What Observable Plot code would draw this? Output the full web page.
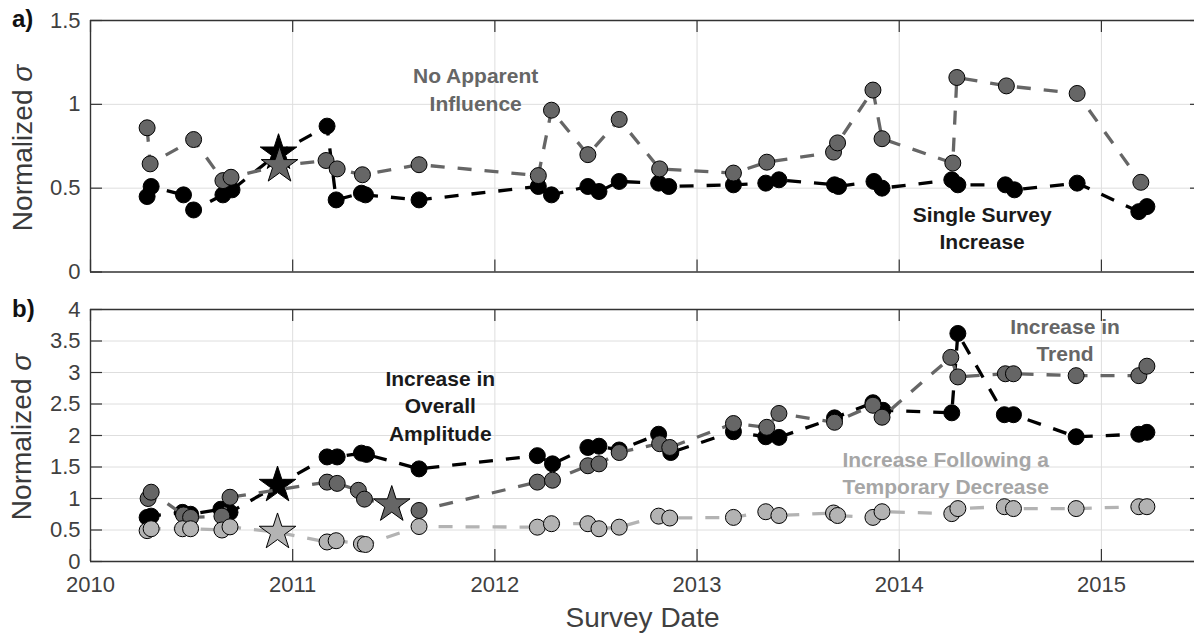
<!DOCTYPE html>
<html>
<head>
<meta charset="utf-8">
<script src="https://cdn.jsdelivr.net/npm/d3@7"></script>
<script src="https://cdn.jsdelivr.net/npm/@observablehq/plot@0.6"></script>
<style>
  html, body { margin: 0; padding: 0; background: #fff; overflow: hidden; }
  #fig { position: relative; width: 1194px; height: 636px; font-family: "Liberation Sans", Arial, sans-serif; }
  .panel { position: absolute; left: 0; }
  .tag { position: absolute; font-weight: bold; font-size: 24px; line-height: 24px; color: #111; }
  .ylab { position: absolute; font-size: 28px; line-height: 30px; color: #3a3a3a; white-space: nowrap;
          transform: translate(-50%, -50%) rotate(-90deg); }
</style>
</head>
<body>
<div id="fig">
  <div class="panel" id="panelA" style="top:0"></div>
  <div class="panel" id="panelB" style="top:290px"></div>
  <div class="tag" style="left:12px; top:7px">a)</div>
  <div class="tag" style="left:12px; top:297px">b)</div>
  <div class="ylab" style="left:23px; top:148px">Normalized <i>σ</i></div>
  <div class="ylab" style="left:22px; top:437px">Normalized <i>σ</i></div>
</div>
<script>
// ---- axis ticks ----
const yearTicks = [2010, 2011, 2012, 2013, 2014, 2015];
const yTicksA = [0, 0.5, 1, 1.5];
const yTickLabelsA = ["0", "0.5", "1", "1.5"];
const yTicksB = [0, 0.5, 1, 1.5, 2, 2.5, 3, 3.5, 4];
const yTickLabelsB = ["0", "0.5", "1", "1.5", "2", "2.5", "3", "3.5", "4"];

// ---- panel a: single survey increase (black) ----
const aSingleDates = [2010.28, 2010.30, 2010.46, 2010.51, 2010.655, 2010.70, 2011.17, 2011.215, 2011.34, 2011.36,
  2011.625, 2012.215, 2012.28, 2012.46, 2012.515, 2012.615, 2012.81, 2012.86, 2013.18, 2013.34, 2013.405,
  2013.68, 2013.70, 2013.875, 2013.915, 2014.26, 2014.29, 2014.525, 2014.57, 2014.88, 2015.185, 2015.225];
const aSingleValues = [0.45, 0.51, 0.46, 0.37, 0.46, 0.49, 0.87, 0.43, 0.47, 0.46,
  0.43, 0.51, 0.46, 0.51, 0.48, 0.54, 0.53, 0.51, 0.52, 0.53, 0.55,
  0.52, 0.51, 0.54, 0.50, 0.55, 0.52, 0.52, 0.49, 0.53, 0.36, 0.39];
const aSingleStarDates = [2010.93];
const aSingleStarValues = [0.71];

// ---- panel a: no apparent influence (dark gray) ----
const aNoneDates = [2010.28, 2010.295, 2010.51, 2010.655, 2010.695, 2011.165, 2011.22, 2011.345, 2011.625,
  2012.215, 2012.28, 2012.46, 2012.615, 2012.815, 2013.18, 2013.345, 2013.675, 2013.695, 2013.87, 2013.915,
  2014.265, 2014.285, 2014.53, 2014.88, 2015.195];
const aNoneValues = [0.86, 0.645, 0.79, 0.545, 0.565, 0.665, 0.615, 0.58, 0.64,
  0.575, 0.965, 0.70, 0.91, 0.615, 0.59, 0.655, 0.715, 0.77, 1.085, 0.795,
  0.65, 1.16, 1.11, 1.065, 0.535];
const aNoneStarDates = [2010.935];
const aNoneStarValues = [0.635];

// ---- panel b: increase in overall amplitude (black) ----
const bAmpDates = [2010.28, 2010.30, 2010.455, 2010.495, 2010.645, 2010.69, 2011.17, 2011.22, 2011.34, 2011.365,
  2011.625, 2012.21, 2012.285, 2012.46, 2012.515, 2012.615, 2012.81, 2012.87, 2013.18, 2013.34, 2013.405,
  2013.68, 2013.87, 2013.92, 2014.26, 2014.29, 2014.52, 2014.565, 2014.875, 2015.185, 2015.225];
const bAmpValues = [0.70, 0.72, 0.78, 0.75, 0.83, 0.78, 1.66, 1.66, 1.72, 1.70,
  1.47, 1.68, 1.55, 1.81, 1.83, 1.77, 2.02, 1.73, 2.06, 1.98, 1.97,
  2.28, 2.52, 2.40, 2.36, 3.62, 2.33, 2.33, 1.98, 2.02, 2.05];
const bAmpStarDates = [2010.925];
const bAmpStarValues = [1.21];

// ---- panel b: increase in trend (dark gray) ----
const bTrendDates = [2010.285, 2010.30, 2010.46, 2010.495, 2010.65, 2010.69, 2011.17, 2011.22, 2011.325, 2011.355,
  2011.625, 2012.21, 2012.285, 2012.46, 2012.515, 2012.615, 2012.815, 2012.865, 2013.18, 2013.345, 2013.405,
  2013.68, 2013.87, 2013.915, 2014.255, 2014.29, 2014.525, 2014.565, 2014.875, 2015.185, 2015.225];
const bTrendValues = [1.00, 1.10, 0.74, 0.70, 0.72, 1.02, 1.26, 1.24, 1.13, 0.99,
  0.81, 1.26, 1.29, 1.52, 1.55, 1.73, 1.87, 1.81, 2.19, 2.13, 2.35,
  2.21, 2.48, 2.29, 3.24, 2.93, 2.98, 2.98, 2.95, 2.95, 3.10];
const bTrendStarDates = [2011.49];
const bTrendStarValues = [0.90];

// ---- panel b: increase following a temporary decrease (light gray) ----
const bDipDates = [2010.28, 2010.30, 2010.455, 2010.495, 2010.65, 2010.69, 2011.17, 2011.215, 2011.34, 2011.36,
  2011.625, 2012.21, 2012.28, 2012.46, 2012.515, 2012.615, 2012.81, 2012.865, 2013.18, 2013.34, 2013.405,
  2013.675, 2013.695, 2013.87, 2013.915, 2014.26, 2014.29, 2014.52, 2014.565, 2014.875, 2015.185, 2015.225];
const bDipValues = [0.49, 0.52, 0.52, 0.52, 0.50, 0.55, 0.31, 0.33, 0.28, 0.27,
  0.555, 0.545, 0.60, 0.60, 0.52, 0.545, 0.72, 0.69, 0.70, 0.79, 0.73,
  0.77, 0.73, 0.70, 0.79, 0.76, 0.84, 0.87, 0.84, 0.84, 0.87, 0.87];
const bDipStarDates = [2010.925];
const bDipStarValues = [0.465];

// ---- annotations ----
const notesALabels = ["No Apparent\nInfluence", "Single Survey\nIncrease"];
const notesADates = [2011.905, 2014.41];
const notesAValues = [1.095, 0.27];
const notesAColors = ["#666666", "#1a1a1a"];
const notesBLabels = ["Increase in\nOverall\nAmplitude", "Increase in\nTrend", "Increase Following a\nTemporary Decrease"];
const notesBDates = [2011.73, 2014.82, 2014.23];
const notesBValues = [2.49, 3.53, 1.43];
const notesBColors = ["#1a1a1a", "#666666", "#a6a6a6"];

// ---- styling ----
const X_DOMAIN = [2010, 2015.5];
const X_RANGE = [90, 1202];
const TICK_PX = 12;
const GRID = "#dedede";
const AXIS = "#333333";
const LABEL = "#404040";
const FONT = "Liberation Sans, Arial, sans-serif";

function makeSeries(dates, values, starDates, starValues, fill, stroke) {
  const pts = dates.map((d, i) => ({date: d, value: values[i]}));
  const stars = starDates.map((d, i) => ({date: d, value: starValues[i]}));
  const path = [...pts, ...stars].sort((a, b) => a.date - b.date);
  return {pts, stars, path, fill, stroke};
}

function seriesMarks(s) {
  return [
    Plot.line(s.path, {x: "date", y: "value", stroke: s.stroke, strokeWidth: 3.3,
      strokeDasharray: "14,13", strokeLinecap: "butt", strokeLinejoin: "miter"}),
    Plot.dot(s.pts, {x: "date", y: "value", r: 8, fill: s.fill, stroke: "#000", strokeWidth: 1}),
    Plot.dot(s.stars, {x: "date", y: "value", symbol: "star", r: 11.5, fill: s.fill, stroke: "#000", strokeWidth: 1})
  ];
}

function panel({height, marginTop, marginBottom, yDomain, yTicks, yLabels, series, notes, showXLabels}) {
  const [x0, x1] = X_DOMAIN;
  const [y0, y1] = yDomain;
  const yearPx = (X_RANGE[1] - X_RANGE[0]) / (x1 - x0);
  const unitPx = (height - marginTop - marginBottom) / (y1 - y0);
  const tx = TICK_PX / yearPx, ty = TICK_PX / unitPx;

  const marks = [
    // grid
    Plot.ruleX(yearTicks.filter(d => d > x0), {x: d => d, y1: y0, y2: y1, stroke: GRID, strokeWidth: 1}),
    Plot.ruleY(yTicks.filter(d => d > y0 && d < y1), {y: d => d, x1: x0, x2: x1, stroke: GRID, strokeWidth: 1}),
    // inward ticks on all four sides
    Plot.ruleX(yearTicks, {x: d => d, y1: y0, y2: y0 + ty, stroke: AXIS, strokeWidth: 1.2}),
    Plot.ruleX(yearTicks, {x: d => d, y1: y1 - ty, y2: y1, stroke: AXIS, strokeWidth: 1.2}),
    Plot.ruleY(yTicks, {y: d => d, x1: x0, x2: x0 + tx, stroke: AXIS, strokeWidth: 1.2}),
    Plot.ruleY(yTicks, {y: d => d, x1: x1 - tx, x2: x1, stroke: AXIS, strokeWidth: 1.2}),
    // box
    Plot.ruleX([x0, x1], {x: d => d, y1: y0, y2: y1, stroke: AXIS, strokeWidth: 1.4}),
    Plot.ruleY([y0, y1], {y: d => d, x1: x0, x2: x1, stroke: AXIS, strokeWidth: 1.4}),
    // y tick labels
    Plot.text(yTicks, {x: x0, y: d => d, text: (d, i) => yLabels[i], dx: -10, textAnchor: "end",
      lineAnchor: "middle", fontSize: 22, fill: LABEL})
  ];
  if (showXLabels) {
    marks.push(Plot.text(yearTicks, {x: d => d, y: y0, dy: 23, text: d => String(d),
      lineAnchor: "middle", fontSize: 22, fill: LABEL}));
    marks.push(Plot.text(["Survey Date"], {frameAnchor: "bottom", dy: 57, text: d => d,
      lineAnchor: "middle", fontSize: 28, fill: LABEL}));
  }
  for (const s of series) marks.push(...seriesMarks(s));
  notes.labels.forEach((label, i) => {
    marks.push(Plot.text([label], {x: notes.dates[i], y: notes.values[i], text: d => d,
      fill: notes.colors[i], fontWeight: "bold", fontSize: 21, lineHeight: 1.3, lineAnchor: "middle"}));
  });

  return Plot.plot({
    width: 1194, height, marginTop, marginBottom, marginLeft: 90, marginRight: 0,
    x: {domain: X_DOMAIN, range: X_RANGE, axis: null},
    y: {domain: yDomain, axis: null},
    style: {fontFamily: FONT, background: "transparent", overflow: "visible"},
    marks
  });
}

const chartA = panel({
  height: 290, marginTop: 20, marginBottom: 18.5,
  yDomain: [0, 1.5], yTicks: yTicksA, yLabels: yTickLabelsA,
  series: [
    makeSeries(aSingleDates, aSingleValues, aSingleStarDates, aSingleStarValues, "#000000", "#000000"),
    makeSeries(aNoneDates, aNoneValues, aNoneStarDates, aNoneStarValues, "#666666", "#666666")
  ],
  notes: {labels: notesALabels, dates: notesADates, values: notesAValues, colors: notesAColors},
  showXLabels: false
});
document.getElementById("panelA").appendChild(chartA);

const chartB = panel({
  height: 346, marginTop: 19, marginBottom: 75,
  yDomain: [0, 4], yTicks: yTicksB, yLabels: yTickLabelsB,
  series: [
    makeSeries(bAmpDates, bAmpValues, bAmpStarDates, bAmpStarValues, "#000000", "#000000"),
    makeSeries(bTrendDates, bTrendValues, bTrendStarDates, bTrendStarValues, "#666666", "#666666"),
    makeSeries(bDipDates, bDipValues, bDipStarDates, bDipStarValues, "#b3b3b3", "#b3b3b3")
  ],
  notes: {labels: notesBLabels, dates: notesBDates, values: notesBValues, colors: notesBColors},
  showXLabels: true
});
document.getElementById("panelB").appendChild(chartB);
</script>
</body>
</html>
